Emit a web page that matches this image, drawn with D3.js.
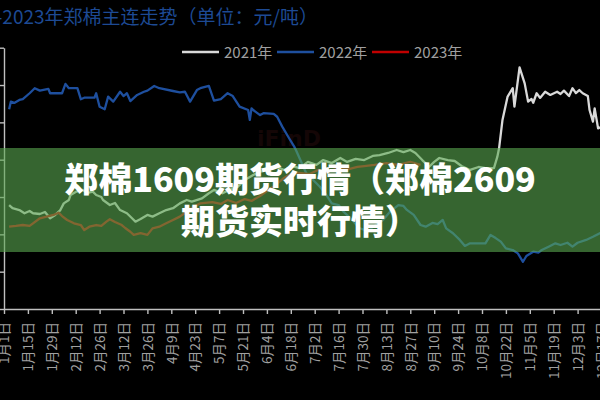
<!DOCTYPE html>
<html><head><meta charset="utf-8">
<script src="https://cdn.jsdelivr.net/npm/d3@7"></script>
<style>html,body{margin:0;padding:0;background:#000;overflow:hidden}</style>
</head><body><svg id="c" width="600" height="400"></svg>
<script>
// ---------- data (郑棉主连, 元/吨) ----------
const seriesNames = ["2021年", "2022年", "2023年"];

const dates2021 = [
 "01-04","01-06","01-10","01-13","01-16","01-18","01-22","01-25","01-28","01-31",
 "02-03","02-05","02-08","02-09","02-12","02-16","02-19","02-22","02-24","02-27","02-28",
 "03-04","03-07","03-10","03-14","03-17","03-19","03-22","03-26","03-29",
 "04-02","04-06","04-10","04-14","04-18","04-21","04-27",
 "05-01","05-04","05-09","05-13","05-18","05-22","05-27","05-31",
 "06-05","06-09","06-14","06-19","06-23","06-28",
 "07-03","07-07","07-12","07-17","07-21","07-26","07-31",
 "08-05","08-09","08-14","08-19","08-23","08-27","08-30",
 "09-03","09-07","09-10","09-13","09-18","09-22","09-26",
 "10-01","10-06","10-10","10-15","10-17","10-18","10-20","10-23","10-26","10-27","10-30",
 "11-02","11-04","11-06","11-07","11-09","11-11","11-14","11-17","11-21","11-23","11-25","11-28","11-30",
 "12-02","12-04","12-06","12-09","12-10","12-12","12-13","12-15","12-17","12-22","12-29"];
const values2021 = [
 15570,15400,15300,15130,15250,15130,15090,15200,14860,15040,
 15300,15660,15840,16110,16270,16380,16220,16290,16110,16000,15840,
 15570,15680,15300,15130,14860,14680,14820,15040,14950,
 15130,15300,15400,15660,15840,15750,15930,
 16200,16380,16200,16380,16550,16910,17180,17360,
 17450,17660,17450,17660,17550,17880,
 17720,17980,17820,18090,17880,18040,17980,
 18200,18250,18360,18520,18410,18520,18360,
 17980,17620,17880,18090,17980,17930,17660,
 17450,17610,17550,17550,18160,18610,20130,21380,21830,20840,22950,
 22090,21110,21250,21050,21560,21310,21640,21470,21640,21520,21700,21410,21830,
 21570,21730,21560,21410,20660,20040,20750,19680,19750,19600,19800];

const dates2022 = [
 "01-04","01-05","01-07","01-10","01-12","01-16","01-19","01-22","01-27","01-28",
 "02-04","02-06","02-08","02-13","02-15","02-17","02-23","02-24","02-26",
 "03-01","03-03","03-06","03-10","03-12","03-14","03-16","03-20","03-24","03-26","03-30",
 "04-02","04-10","04-14","04-17","04-20","04-24","04-26",
 "05-01","05-04","05-08","05-12","05-15","05-19","05-24","05-25","05-26","05-27","05-31",
 "06-02","06-08","06-10","06-13","06-17","06-20","06-21","06-27",
 "07-05","07-08","07-12","07-16","07-19","07-24","07-28",
 "08-02","08-06","08-11","08-15","08-20","08-23","08-25","08-29",
 "09-02","09-05","09-09","09-12","09-15","09-17","09-21","09-25","09-28",
 "10-01","10-10","10-13","10-16","10-19","10-22","10-26","10-29",
 "11-01","11-03","11-07","11-10","11-12","11-16","11-20","11-23","11-27","11-30",
 "12-03","12-08","12-12","12-16","12-22","12-29"];
const values2022 = [
 20700,21110,21040,21200,21240,21560,21830,21700,21790,21560,
 21560,22060,21830,21830,21240,21320,21320,21560,20840,
 20700,21380,21110,21640,21410,21560,21140,21470,21640,21700,21950,
 21830,21680,21610,21640,21110,21730,21830,
 21950,21160,21250,21560,21410,20840,20660,20130,20750,20660,20390,
 20490,20450,20300,19770,19150,18700,18520,17290,
 16550,16220,15660,15570,15200,14770,14340,
 14180,14450,14770,15200,15570,15520,15310,15040,
 14500,14410,14610,14550,14770,14320,14060,13700,13380,
 13520,13520,13970,13800,13610,13250,13160,12980,
 12530,12840,13070,13020,13160,13340,13520,13430,13550,13340,
 13550,13700,13870,14060,14150,14200];

const dates2023 = [
 "01-04","01-08","01-12","01-16","01-18","01-22","01-26","01-30",
 "02-02","02-04","02-07","02-11","02-15","02-17","02-20","02-24","02-27",
 "03-02","03-04","03-07","03-11","03-13","03-16","03-18","03-22","03-26","03-29",
 "04-02","04-06","04-10","04-14","04-18","04-22","04-26",
 "05-03","05-08","05-12","05-17","05-22","05-26","05-31",
 "06-05","06-09","06-14","06-18","06-23","06-29",
 "07-04","07-09","07-13","07-17","07-22","07-27","07-31",
 "08-06","08-13","08-20","08-27","09-02"];
const values2023 = [
 14410,14450,14500,14450,14590,14860,14950,15040,
 15160,14980,14770,14590,14500,14230,14410,14500,14450,
 14680,14810,14660,14500,14340,14140,13970,14060,13970,14320,
 14410,14590,14770,14950,15210,15480,15660,
 15730,15630,15840,15680,15890,15790,16050,
 16380,16640,17020,17230,17290,17230,
 17450,17340,17450,17560,17500,17610,17660,
 17720,17810,17720,17890,17720];

const yTickValues = [10000,12000,14000,16000,18000,20000,22000,24000];
const xTickDays = d3.range(0, 365, 14); // every 14 days from 1月1日

const titleText = "2021-2023年郑棉主连走势（单位：元/吨）";
const bannerLines = ["郑棉1609期货行情（郑棉2609", "期货实时行情）"];

// ---------- drawing ----------
const FONT = "'Noto Sans CJK SC','Noto Sans',sans-serif";
const svg = d3.select("#c");
svg.append("rect").attr("width",600).attr("height",400).attr("fill","#000");

const parse = d3.timeParse("%Y-%m-%d");
const base = "2023-";
const jan1 = parse(base + "01-01");
const x = d3.scaleTime().domain([jan1, parse(base + "12-31")]).range([4, 625.4]);
const y = d3.scaleLinear().domain([10000, 24000]).range([309, 47.7]);

// title
svg.append("text").attr("x",318).attr("y",24).attr("text-anchor","end")
  .attr("font-family",FONT).attr("font-size",19).attr("fill","#1d4a94")
  .text(titleText);

// faint watermark
svg.append("text").attr("x",257).attr("y",146).attr("font-family","'DejaVu Sans',sans-serif")
  .attr("font-weight","bold").attr("font-size",22).attr("fill","#140606").text("iFinD");

// axes
const yAxis = svg.append("g").attr("transform","translate(4,0)")
  .call(d3.axisLeft(y).tickValues(yTickValues).tickSize(5).tickSizeOuter(0).tickFormat(""));
const xAxis = svg.append("g").attr("transform","translate(0,309)")
  .call(d3.axisBottom(x).tickValues(xTickDays.map(d => d3.timeDay.offset(jan1, d)))
        .tickSize(5).tickSizeOuter(0).tickFormat(d3.timeFormat("%-m月%-d日")));
[yAxis, xAxis].forEach(g => {
  g.selectAll("path,line").attr("stroke","#bfbfbf").attr("stroke-width",1.4);
});
xAxis.selectAll("text")
  .attr("transform","rotate(-90)").attr("text-anchor","end")
  .attr("x",-13).attr("y",0).attr("dy","0.35em")
  .attr("font-family",FONT).attr("font-size",13.5).attr("fill","#a0a0a0");

// lines
const colors = ["#d9d9d9", "#1e4f9e", "#c00000"];
const allDates = [dates2021, dates2022, dates2023];
const allValues = [values2021, values2022, values2023];
const line = d3.line().x(d => x(d.date)).y(d => y(d.value));
allDates.forEach((ds, i) => {
  const data = ds.map((md, j) => ({date: parse(base + md), value: allValues[i][j]}));
  svg.append("path").datum(data).attr("d", line)
    .attr("fill","none").attr("stroke", colors[i]).attr("stroke-width", 2.3)
    .attr("stroke-linejoin","round");
});

// legend
const legendX = [182, 277, 372];
seriesNames.forEach((name, i) => {
  const g = svg.append("g").attr("transform", `translate(${legendX[i]},52)`);
  g.append("line").attr("x1",0).attr("x2",37).attr("stroke",colors[i]).attr("stroke-width",2.5);
  g.append("text").attr("x",42).attr("y",5.5).attr("font-family",FONT)
    .attr("font-size",15).attr("fill","#a0a0a0").text(name);
});

// banner overlay
svg.append("rect").attr("x",0).attr("y",148).attr("width",600).attr("height",104)
  .attr("fill","rgb(90,168,80)").attr("fill-opacity",0.6);
bannerLines.forEach((t, i) => {
  svg.append("text").attr("x",300).attr("y",192 + i*42).attr("text-anchor","middle")
    .attr("font-family",FONT).attr("font-weight",900).attr("font-size",34)
    .attr("fill","#ffffff").text(t);
});
</script></body></html>
